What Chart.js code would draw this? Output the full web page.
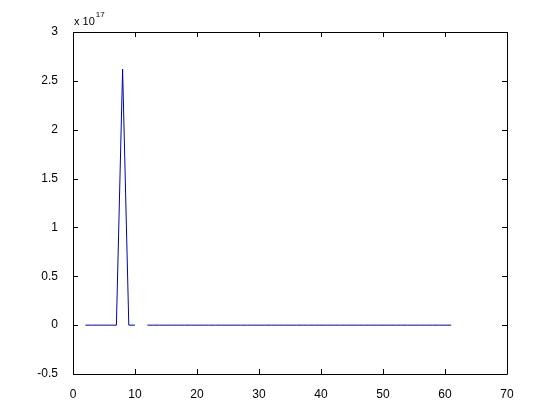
<!DOCTYPE html>
<html>
<head>
<meta charset="utf-8">
<script src="https://cdn.jsdelivr.net/npm/chart.js@4"></script>
<style>
  html, body { margin: 0; padding: 0; background: #fff; }
  #wrap { width: 560px; height: 420px; }
</style>
</head>
<body>
<div id="wrap"><canvas id="plot"></canvas></div>
<script>
// sample index and value (in units of 1e17); null = gap in the line
const xValues = [1, 2, 3, 4, 5, 6, 7, 8, 9, 10, 11, 12, 13, 14, 15, 16, 17, 18, 19, 20,
    21, 22, 23, 24, 25, 26, 27, 28, 29, 30, 31, 32, 33, 34, 35, 36, 37, 38, 39, 40,
    41, 42, 43, 44, 45, 46, 47, 48, 49, 50, 51, 52, 53, 54, 55, 56, 57, 58, 59, 60, 61];
const yValues = [null, 0, 0, 0, 0, 0, 0, 2.62, 0, 0, null, 0, 0, 0, 0, 0, 0, 0, 0, 0,
    0, 0, 0, 0, 0, 0, 0, 0, 0, 0, 0, 0, 0, 0, 0, 0, 0, 0, 0, 0,
    0, 0, 0, 0, 0, 0, 0, 0, 0, 0, 0, 0, 0, 0, 0, 0, 0, 0, 0, 0, 0];
const xTicks = [0, 10, 20, 30, 40, 50, 60, 70];
const yTicks = [-0.5, 0, 0.5, 1, 1.5, 2, 2.5, 3];
const exponent = 17;

const points = xValues.map((x, i) => ({ x: x, y: yValues[i] }));
const fontFamily = "'Liberation Sans', Arial, sans-serif";

// box around the axes, inward ticks on all four sides, exponent label
const matlabAxes = {
    id: "matlabAxes",
    afterDraw(chart) {
        const ctx = chart.ctx;
        const a = chart.chartArea;
        const sx = chart.scales.x;
        const sy = chart.scales.y;
        const len = 5;
        ctx.save();
        ctx.strokeStyle = "#000";
        ctx.lineWidth = 1;
        ctx.beginPath();
        ctx.rect(Math.round(a.left) + 0.5, Math.round(a.top) + 0.5,
            Math.round(a.right - a.left), Math.round(a.bottom - a.top));
        xTicks.forEach(v => {
            const px = Math.round(sx.getPixelForValue(v)) + 0.5;
            ctx.moveTo(px, a.bottom); ctx.lineTo(px, a.bottom - len);
            ctx.moveTo(px, a.top); ctx.lineTo(px, a.top + len);
        });
        yTicks.forEach(v => {
            const py = Math.round(sy.getPixelForValue(v)) + 0.5;
            ctx.moveTo(a.left, py); ctx.lineTo(a.left + len, py);
            ctx.moveTo(a.right, py); ctx.lineTo(a.right - len, py);
        });
        ctx.stroke();

        ctx.fillStyle = "#000";
        ctx.textBaseline = "alphabetic";
        ctx.textAlign = "left";
        ctx.font = "11px " + fontFamily;
        ctx.fillText("x 10", a.left + 1, a.top - 7);
        const w = ctx.measureText("x 10").width;
        ctx.font = "8px " + fontFamily;
        ctx.fillText(String(exponent), a.left + 2 + w, a.top - 15);
        ctx.restore();
    }
};

new Chart(document.getElementById("plot"), {
    type: "line",
    data: {
        datasets: [{
            data: points,
            borderColor: "rgb(0, 0, 170)",
            borderWidth: 1,
            pointRadius: 0,
            spanGaps: false,
            tension: 0
        }]
    },
    options: {
        responsive: true,
        maintainAspectRatio: false,
        animation: false,
        layout: { padding: { left: 0, top: 32, right: 53, bottom: 0 } },
        plugins: {
            legend: { display: false },
            tooltip: { enabled: false }
        },
        scales: {
            x: {
                type: "linear",
                min: 0,
                max: 70,
                grid: { display: false },
                border: { display: false },
                afterBuildTicks: s => { s.ticks = xTicks.map(v => ({ value: v })); },
                afterFit: s => { s.height = 46; },
                ticks: {
                    color: "#000",
                    padding: 5,
                    maxRotation: 0,
                    font: { family: fontFamily, size: 12 }
                }
            },
            y: {
                min: -0.5,
                max: 3,
                grid: { display: false },
                border: { display: false },
                afterBuildTicks: s => { s.ticks = yTicks.map(v => ({ value: v })); },
                afterFit: s => { s.width = 73; },
                ticks: {
                    color: "#000",
                    padding: 7,
                    font: { family: fontFamily, size: 12 },
                    callback: v => String(v)
                }
            }
        }
    },
    plugins: [matlabAxes]
});
</script>
</body>
</html>
